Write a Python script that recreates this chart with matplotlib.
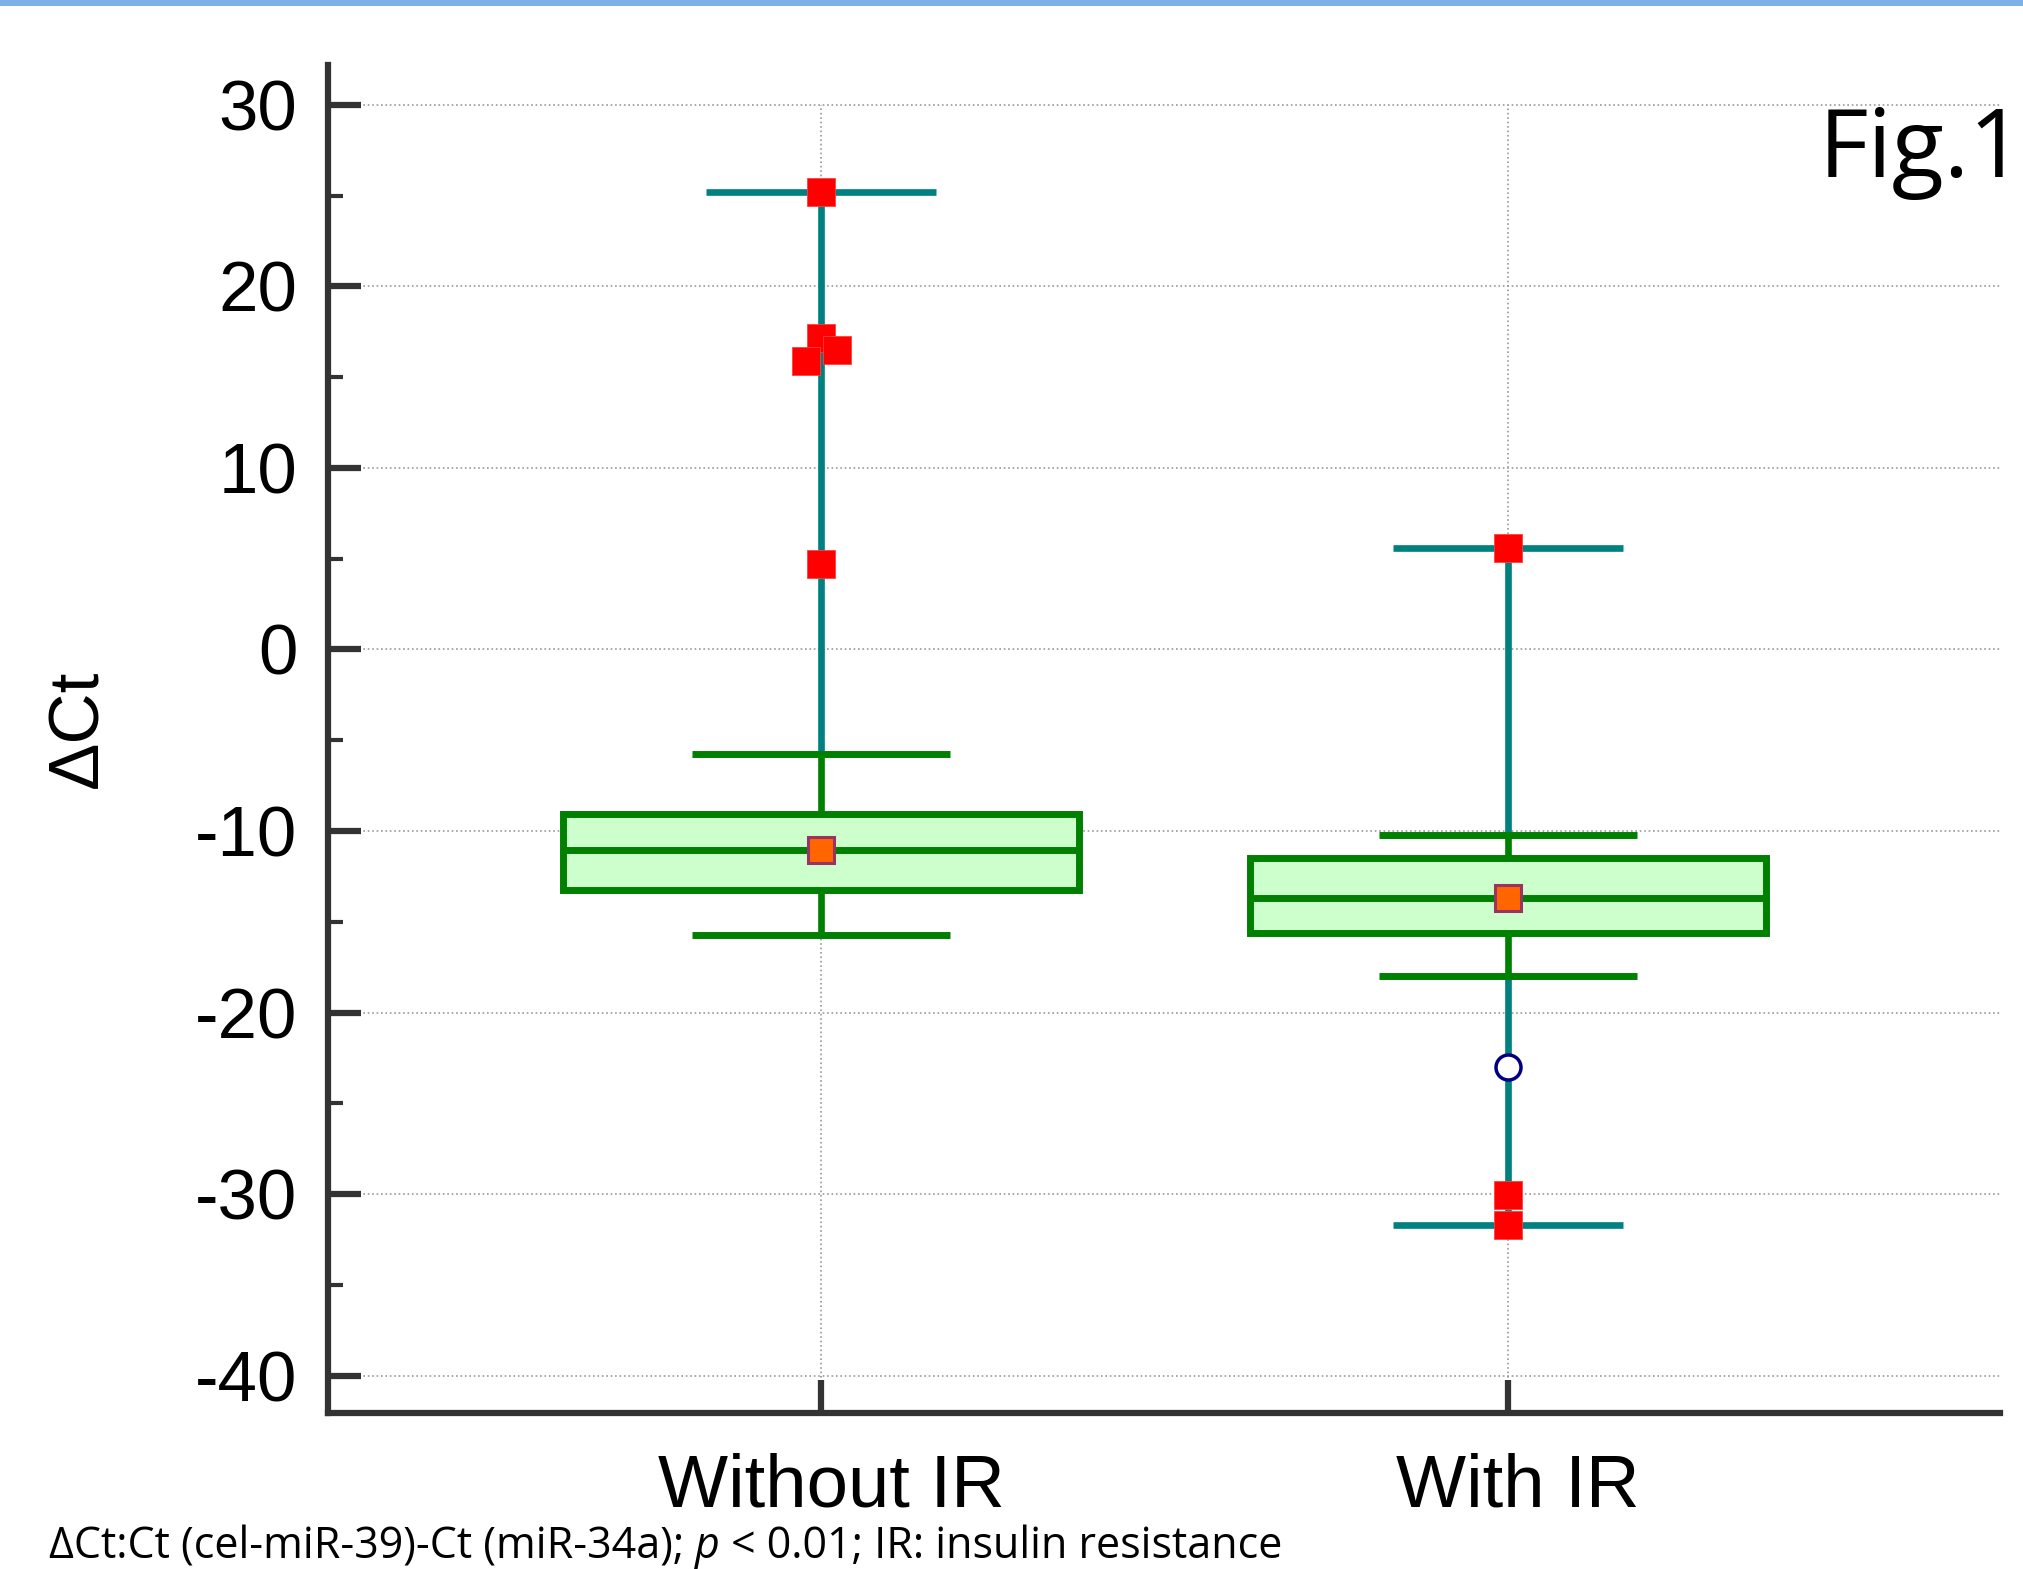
"""
Box-and-whisker chart of delta Ct, with and without insulin resistance
"""
import numpy as np
import matplotlib
matplotlib.use("Agg")
import matplotlib.pyplot as plt
import matplotlib.transforms as mtransforms
from matplotlib.ticker import MultipleLocator
from matplotlib.patches import Rectangle

# ---- data ----
groups = ['Without IR', 'With IR']
box_q1 = [-13.25, -15.62]
box_q3 = [-9.08, -11.51]
medians = [-11.05, -13.66]
means = [-11.05, -13.66]
inner_lo = [-15.73, -17.97]      # green whisker caps
inner_hi = [-5.76, -10.22]
outer_lo = [np.nan, -31.71]      # teal caps
outer_hi = [25.2, 5.57]

# red squares: group index, value, small horizontal jitter
red_group = [0, 0, 0, 0, 0, 1, 1, 1]
red_vals = [25.2, 17.16, 16.50, 15.89, 4.71, 5.57, -30.06, -31.71]
red_jitter = [0, 0, 0.023, -0.022, 0, 0, 0, 0]

circle_group = [1]
circle_vals = [-22.99]

GREEN = '#008000'
TEAL = '#008080'
SPINE = '#333333'

plt.rcParams['font.family'] = ['Liberation Sans', 'DejaVu Sans']
plt.rcParams['axes.unicode_minus'] = False

W, H = 2023, 1569
fig = plt.figure(figsize=(W / 100, H / 100), dpi=100)
ax = fig.add_axes([327.7 / W, 1 - 1412.7 / H, (2000 - 327.7) / W, (1412.7 - 65.3) / H])

x = np.arange(1, len(groups) + 1)

# top blue band
fig.patches.append(Rectangle((0, 1 - 6 / H), 1, 6 / H, transform=fig.transFigure,
                             facecolor='#7EB2E6', edgecolor='none'))

ax.set_xlim(0.282, 2.716)
ax.set_ylim(-42.03, 32.17)

# grid
ax.yaxis.grid(True, which='major', linestyle=':', color='#999999', linewidth=1.2, zorder=0)
ax.vlines(x, ax.get_ylim()[0], 30, linestyles=':', colors='#999999', linewidth=1.2, zorder=0.5)
ax.set_axisbelow(True)

# teal outer whiskers
hi_mask = ~np.isnan(outer_hi)
lo_mask = ~np.isnan(outer_lo)
ax.vlines(x[hi_mask], np.array(inner_hi)[hi_mask], np.array(outer_hi)[hi_mask],
          colors=TEAL, linewidth=4.8, zorder=2, capstyle='butt')
ax.vlines(x[lo_mask], np.array(outer_lo)[lo_mask], np.array(inner_lo)[lo_mask],
          colors=TEAL, linewidth=4.8, zorder=2, capstyle='butt')
ax.hlines(np.array(outer_hi)[hi_mask], x[hi_mask] - 0.1675, x[hi_mask] + 0.1675,
          colors=TEAL, linewidth=4.8, zorder=3, capstyle='butt')
ax.hlines(np.array(outer_lo)[lo_mask], x[lo_mask] - 0.1675, x[lo_mask] + 0.1675,
          colors=TEAL, linewidth=4.8, zorder=3, capstyle='butt')

# green inner whiskers
ax.vlines(x, box_q3, inner_hi, colors=GREEN, linewidth=4.8, zorder=2, capstyle='butt')
ax.vlines(x, inner_lo, box_q1, colors=GREEN, linewidth=4.8, zorder=2, capstyle='butt')
ax.hlines(inner_hi, x - 0.1875, x + 0.1875, colors=GREEN, linewidth=5, zorder=3, capstyle='butt')
ax.hlines(inner_lo, x - 0.1875, x + 0.1875, colors=GREEN, linewidth=5, zorder=3, capstyle='butt')

# boxes
heights = np.array(box_q3) - np.array(box_q1)
ax.bar(x, heights, bottom=box_q1, width=0.75, facecolor='#CCFFCC',
       edgecolor=GREEN, linewidth=5, zorder=3)
ax.hlines(medians, x - 0.375, x + 0.375, colors=GREEN, linewidth=5, zorder=4, capstyle='butt')
ax.plot(x, means, 's', markersize=19, markerfacecolor='#FF6600',
        markeredgecolor='#993366', markeredgewidth=2.2, linestyle='none', zorder=5)

# individual points
red_x = x[np.array(red_group)] + np.array(red_jitter)
ax.plot(red_x, red_vals, 's', markersize=20, markerfacecolor='#FF0000',
        markeredgecolor='#FF4040', markeredgewidth=0.6, linestyle='none', zorder=6)
ax.plot(x[np.array(circle_group)], circle_vals, 'o', markersize=18, markerfacecolor='white',
        markeredgecolor='#000080', markeredgewidth=2.5, linestyle='none', zorder=6)

# axes styling
for side in ['top', 'right']:
    ax.spines[side].set_visible(False)
for side in ['left', 'bottom']:
    ax.spines[side].set_linewidth(4.5)
    ax.spines[side].set_color(SPINE)

ax.yaxis.set_major_locator(MultipleLocator(10))
ax.yaxis.set_minor_locator(MultipleLocator(5))
ax.set_yticks(np.arange(-40, 31, 10))
ax.tick_params(axis='y', which='major', direction='in', length=24, width=4.5,
               color=SPINE, labelsize=51, pad=22)
ax.tick_params(axis='y', which='minor', direction='in', length=11, width=3, color=SPINE)
ax.set_xticks(x)
ax.set_xticklabels(groups)
ax.tick_params(axis='x', which='major', direction='in', length=24, width=4.5,
               color=SPINE, labelsize=53.5, pad=29)
shift = mtransforms.ScaledTranslation(10 / 100, 0, fig.dpi_scale_trans)
for lab in ax.get_xticklabels():
    lab.set_transform(lab.get_transform() + shift)

fig.text(79 / W, 1 - 729 / H, '\u0394Ct', rotation=90, ha='center', va='center', fontsize=51)

fig.text(2024 / W, 1 - 177 / H, 'Fig.1', ha='right', va='baseline',
         fontsize=69, family=['Open Sans', 'DejaVu Sans'])

# caption with italic p
cap_font = ['Open Sans', 'DejaVu Sans']
cap_size = 31
t1 = fig.text(49 / W, 11 / H, '\u0394Ct:Ct (cel-miR-39)-Ct (miR-34a); ', ha='left',
              va='baseline', fontsize=cap_size, family=cap_font)
t2 = ax.annotate('p', xy=(1, 0), xycoords=t1, ha='left', va='bottom', fontsize=cap_size,
                 family=cap_font, style='italic', annotation_clip=False)
t3 = ax.annotate(' < 0.01; IR: insulin resistance', xy=(1, 0), xycoords=t2, ha='left',
                 va='bottom', fontsize=cap_size, family=cap_font, annotation_clip=False)

fig.savefig('out.png', dpi=100)
